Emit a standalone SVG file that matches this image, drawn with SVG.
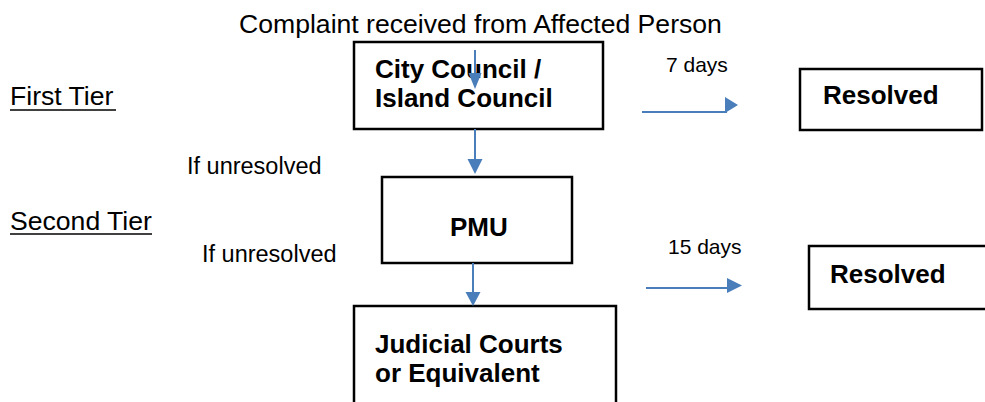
<svg xmlns="http://www.w3.org/2000/svg" width="985" height="402" viewBox="0 0 985 402">
<style>
.box{fill:#fff;stroke:#000;stroke-width:2.5}
.t{font-family:"Liberation Sans",Arial,sans-serif;fill:#000}
.n{font-size:26.6px}
.s{font-size:21px}
.u{font-size:23.5px}
.b{font-size:26px;font-weight:bold}
.ln{stroke:#4a7ebb;stroke-width:2;fill:none}
.hd{fill:#4a7ebb}
.ul{stroke:#000;stroke-width:1.6}
</style>
<rect width="985" height="402" fill="#fff"/>
<g id="labels">
<text class="t n" x="239" y="33">Complaint received from Affected Person</text>
<text class="t n" x="10" y="105">First Tier</text>
<line class="ul" x1="10" y1="110" x2="116" y2="110"/>
<text class="t n" x="10" y="230">Second Tier</text>
<line class="ul" x1="10" y1="234" x2="152" y2="234"/>
<text class="t u" x="187" y="174">If unresolved</text>
<text class="t u" x="202" y="262">If unresolved</text>
<text class="t s" x="666" y="72">7 days</text>
<text class="t s" x="668" y="254">15 days</text>
</g>
<g id="city-council">
<rect class="box" x="354" y="42" width="249" height="87"/>
<text class="t b" x="375" y="78">City Council /</text>
<text class="t b" x="375" y="107">Island Council</text>
</g>
<g id="resolved-1">
<rect class="box" x="800" y="69" width="182" height="61"/>
<text class="t b" x="823" y="104">Resolved</text>
</g>
<g id="pmu">
<rect class="box" x="382" y="177" width="190" height="86"/>
<text class="t b" x="450" y="236">PMU</text>
</g>
<g id="resolved-2">
<rect class="box" x="809" y="246" width="190" height="63"/>
<text class="t b" x="830" y="283">Resolved</text>
</g>
<g id="judicial">
<rect class="box" x="354" y="306" width="262" height="110"/>
<text class="t b" x="375" y="353">Judicial Courts</text>
<text class="t b" x="375" y="382">or Equivalent</text>
</g>
<g id="connectors">
<line class="ln" x1="475" y1="50" x2="475" y2="75"/>
<polygon class="hd" points="468.5,73 481.5,73 475,89"/>
<line class="ln" x1="475" y1="129" x2="475" y2="161"/>
<polygon class="hd" points="467.5,159 482.5,159 475,174"/>
<line class="ln" x1="473" y1="263" x2="473" y2="294"/>
<polygon class="hd" points="465.5,292 480.5,292 473,306"/>
<line class="ln" x1="642" y1="112" x2="727" y2="112"/>
<polygon class="hd" points="725,97 738,105 725,113"/>
<line class="ln" x1="646" y1="288" x2="729" y2="288"/>
<polygon class="hd" points="727,278 742,285.5 727,293"/>
</g>
</svg>
